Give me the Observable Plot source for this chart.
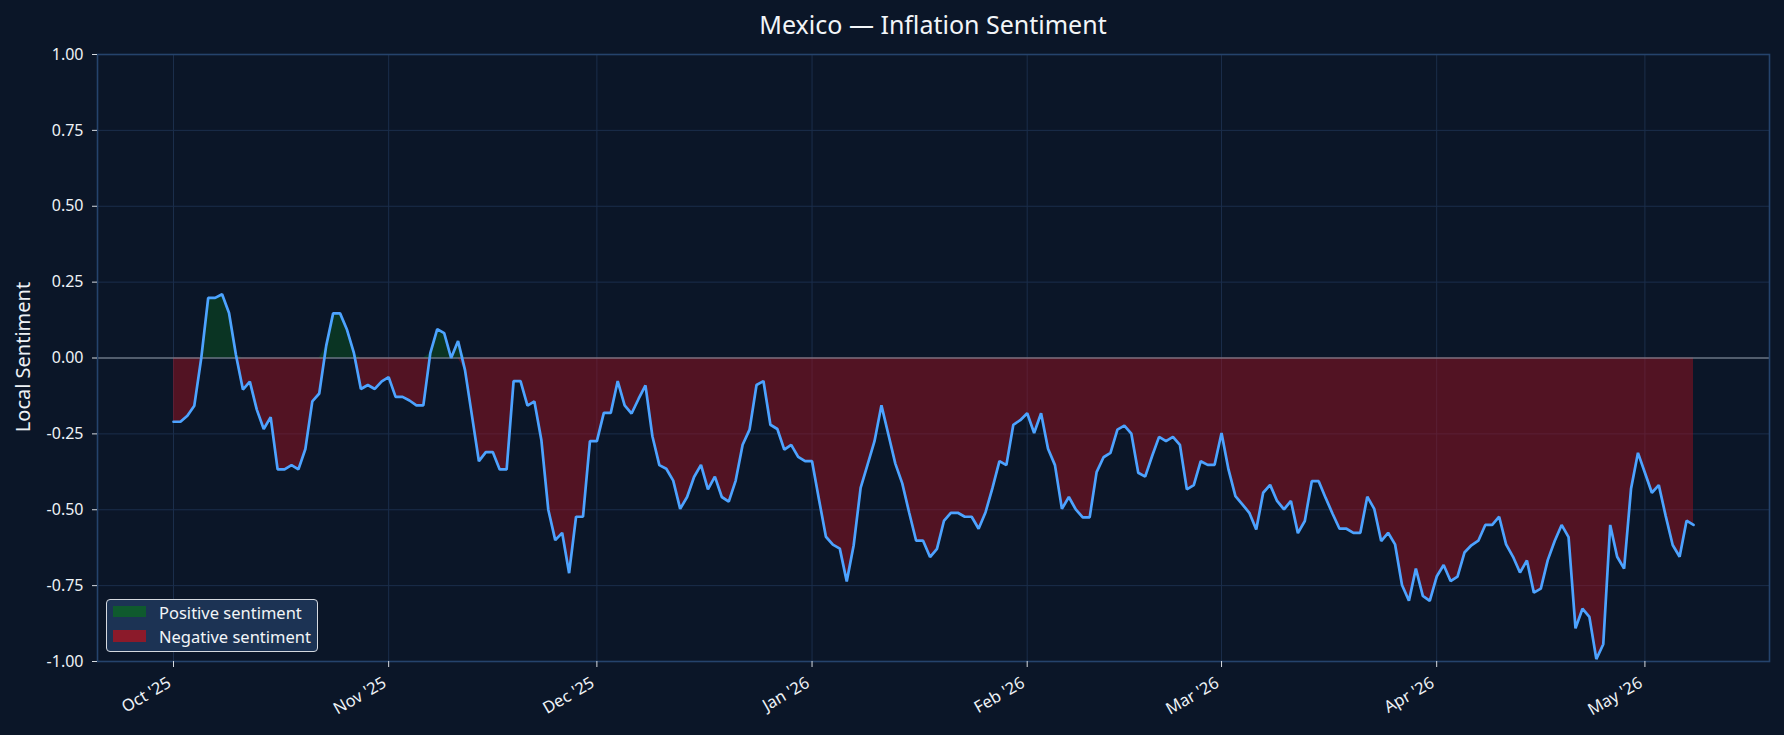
<!DOCTYPE html>
<html>
<head>
<meta charset="utf-8">
<script src="https://cdn.jsdelivr.net/npm/d3@7"></script>
<script src="https://cdn.jsdelivr.net/npm/@observablehq/plot@0.6"></script>
<style>
  html, body { margin: 0; padding: 0; background: #0b1628; }
  #wrap { position: relative; width: 1784px; height: 735px; background: #0b1628; font-family: "Noto Sans", sans-serif; color: #eef2f6; overflow: hidden; }
  #title { position: absolute; left: 97px; width: 1672px; top: 7px; text-align: center; font-size: 25px; line-height: 34px; color: #f2f5f8; }
  #ylabel { position: absolute; left: 22px; top: 357px; transform: translate(-50%, -50%) rotate(-90deg); font-size: 20px; white-space: nowrap; color: #eef2f6; }
  #legend { position: absolute; left: 106px; top: 599px; width: 210px; height: 51px; background: #1c3354; border: 1.5px solid #d5d9df; border-radius: 4px; }
  .sw { position: absolute; left: 5.5px; width: 33px; height: 11.5px; }
  .lt { position: absolute; left: 52px; font-size: 16.5px; line-height: 20px; white-space: nowrap; color: #f2f5f8; }
</style>
</head>
<body>
<div id="wrap">
  <div id="chart"></div>
  <div id="title"></div>
  <div id="ylabel"></div>
  <div id="legend"></div>
</div>
<script>
// ---- data ----
const startDate = "2025-10-01";
const sentiment = [
  -0.21, -0.21, -0.19, -0.157, 0.0, 0.198, 0.198, 0.21, 0.148, 0.01,
  -0.104, -0.078, -0.17, -0.234, -0.195, -0.367, -0.367, -0.353, -0.367, -0.30,
  -0.143, -0.117, 0.04, 0.147, 0.147, 0.093, 0.016, -0.102, -0.089, -0.102,
  -0.077, -0.063, -0.128, -0.128, -0.14, -0.156, -0.156, 0.016,
  0.095, 0.082, 0.0, 0.056, -0.04, -0.19, -0.34, -0.31, -0.31, -0.367,
  -0.367, -0.076, -0.076, -0.157, -0.143, -0.27, -0.50, -0.60, -0.576, -0.709,
  -0.523, -0.523, -0.274, -0.274, -0.181, -0.181, -0.076, -0.156, -0.183, -0.135,
  -0.09, -0.258, -0.353, -0.365, -0.404, -0.497, -0.458, -0.392,
  -0.352, -0.433, -0.391, -0.458, -0.473, -0.404, -0.286, -0.236, -0.089, -0.076,
  -0.220, -0.234, -0.302, -0.286, -0.326, -0.340, -0.340, -0.466, -0.589, -0.615,
  -0.628, -0.736, -0.617, -0.428, -0.351, -0.274, -0.156, -0.252, -0.348, -0.413,
  -0.510, -0.602, -0.602, -0.656, -0.629, -0.537, -0.510, -0.510,
  -0.523, -0.523, -0.5625, -0.508, -0.428, -0.340, -0.353, -0.220, -0.205, -0.182,
  -0.247, -0.182, -0.299, -0.353, -0.497, -0.458, -0.499, -0.525, -0.525, -0.376,
  -0.327, -0.3125, -0.236, -0.223, -0.249, -0.378, -0.391, -0.323, -0.260, -0.274,
  -0.260, -0.286, -0.433, -0.419, -0.340, -0.352, -0.352, -0.247,
  -0.367, -0.455, -0.482, -0.510, -0.565, -0.444, -0.418, -0.471, -0.499, -0.471,
  -0.577, -0.537, -0.406, -0.406, -0.461, -0.513, -0.5625, -0.5625, -0.576, -0.576,
  -0.457, -0.497, -0.603, -0.576, -0.614, -0.748, -0.80, -0.694, -0.784, -0.80,
  -0.72, -0.682, -0.735, -0.72, -0.641, -0.617, -0.602, -0.55,
  -0.55, -0.523, -0.614, -0.655, -0.707, -0.667, -0.773, -0.760, -0.666, -0.603,
  -0.55, -0.59, -0.891, -0.826, -0.853, -0.992, -0.943, -0.55, -0.655, -0.694,
  -0.431, -0.3125, -0.378, -0.444, -0.419, -0.521, -0.616, -0.655, -0.536, -0.55
];
const monthTicks = ["2025-10-01", "2025-11-01", "2025-12-01", "2026-01-01", "2026-02-01", "2026-03-01", "2026-04-01", "2026-05-01"];
const monthLabels = ["Oct '25", "Nov '25", "Dec '25", "Jan '26", "Feb '26", "Mar '26", "Apr '26", "May '26"];
const yTicks = [-1.0, -0.75, -0.5, -0.25, 0.0, 0.25, 0.5, 0.75, 1.0];
const titleText = "Mexico — Inflation Sentiment";
const yLabelText = "Local Sentiment";
const legendItems = ["Positive sentiment", "Negative sentiment"];
const legendColors = ["#0f5a2e", "#8b1a2a"];

// ---- build ----
const start = new Date(startDate + "T00:00:00Z");
const rows = sentiment.map((v, i) => ({ date: d3.utcDay.offset(start, i), v }));
const tickDates = monthTicks.map(s => new Date(s + "T00:00:00Z"));
const labelByTime = new Map(tickDates.map((d, i) => [+d, monthLabels[i]]));
const t0 = +rows[0].date, t1 = +rows[rows.length - 1].date;
const pad = (t1 - t0) * 0.05;

const gridColor = "#1b2e4b";
const chart = Plot.plot({
  width: 1784,
  height: 735,
  marginLeft: 97,
  marginRight: 15,
  marginTop: 54,
  marginBottom: 74,
  style: { background: "#0b1628", color: "#eef2f6", fontFamily: "Noto Sans, sans-serif", fontSize: "16px", overflow: "visible" },
  x: { type: "utc", domain: [new Date(t0 - pad), new Date(t1 + pad)] },
  y: { domain: [-1, 1] },
  marks: [
    Plot.gridX(tickDates, { stroke: gridColor, strokeOpacity: 1, strokeWidth: 1 }),
    Plot.gridY(yTicks, { stroke: gridColor, strokeOpacity: 1, strokeWidth: 1 }),
    Plot.areaY(rows, { x: "date", y1: 0, y2: d => Math.min(d.v, 0), fill: "#a8101c", fillOpacity: 0.45, curve: "linear" }),
    Plot.areaY(rows, { x: "date", y1: 0, y2: d => Math.max(d.v, 0), fill: "#08581c", fillOpacity: 0.45, curve: "linear" }),
    Plot.ruleY([0], { stroke: "#9198a2", strokeWidth: 1.2 }),
    Plot.lineY(rows, { x: "date", y: "v", stroke: "#4da3ff", strokeWidth: 2.7, curve: "linear", strokeLinejoin: "miter" }),
    Plot.frame({ stroke: "#25436c", strokeWidth: 1.6 }),
    Plot.axisY(yTicks, { tickFormat: d => d.toFixed(2), tickSize: 5, tickPadding: 9, stroke: "#d5dae0", fill: "#eef2f6", label: null, fontSize: 16 }),
    Plot.axisX(tickDates, { tickFormat: d => labelByTime.get(+d), tickRotate: -30, tickSize: 6, tickPadding: 14, stroke: "#d5dae0", fill: "#eef2f6", label: null, fontSize: 16.5 }),
    Plot.axisX(tickDates, { tickFormat: d => labelByTime.get(+d), tickRotate: -30, tickSize: 0, tickPadding: 20, text: null, label: null, fill: "none" })
  ].slice(0, 9)
});
// shift the rotated x tick labels slightly left so their top-right corner sits at the tick
chart.querySelectorAll('g[aria-label="x-axis tick label"] text').forEach(t => {
  const tr = t.getAttribute("transform") || "";
  t.setAttribute("transform", "translate(-4,0) " + tr);
});
document.getElementById("chart").appendChild(chart);

document.getElementById("title").textContent = titleText;
document.getElementById("ylabel").textContent = yLabelText;
const legend = document.getElementById("legend");
legendItems.forEach((name, i) => {
  const sw = document.createElement("div");
  sw.className = "sw";
  sw.style.top = (5.8 + i * 24.5) + "px";
  sw.style.background = legendColors[i];
  const lt = document.createElement("div");
  lt.className = "lt";
  lt.style.top = (2.5 + i * 24.5) + "px";
  lt.textContent = name;
  legend.appendChild(sw);
  legend.appendChild(lt);
});
</script>
</body>
</html>
